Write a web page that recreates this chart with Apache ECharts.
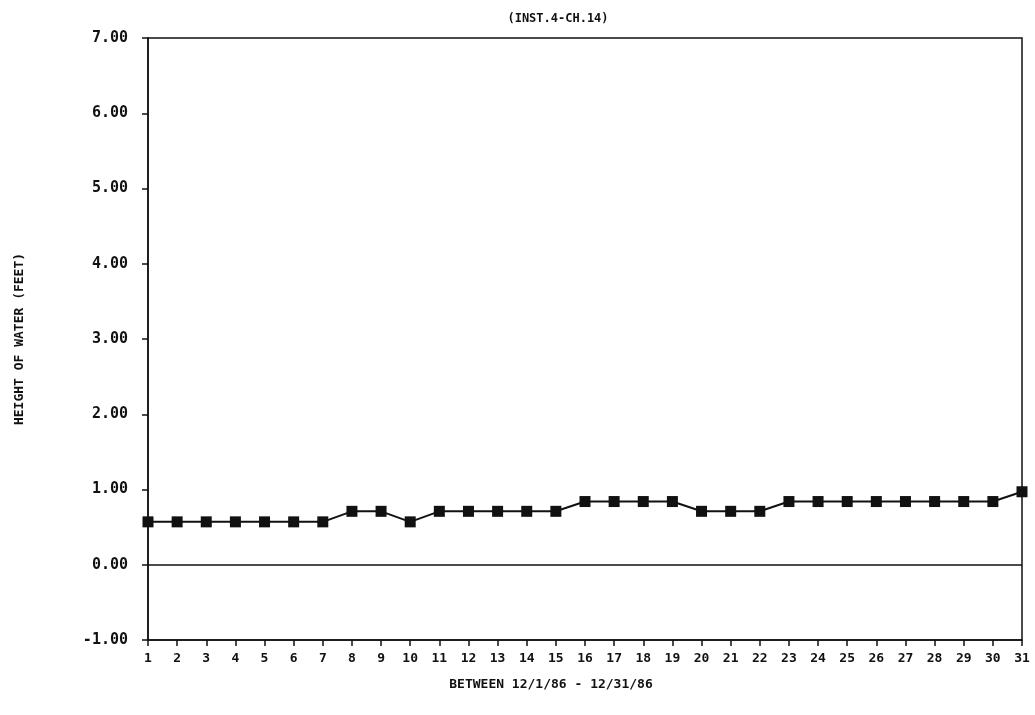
<!DOCTYPE html>
<html>
<head>
<meta charset="utf-8">
<script src="https://cdn.jsdelivr.net/npm/echarts@6/dist/echarts.min.js"></script>
<style>
  html, body { margin: 0; padding: 0; background: #fff; }
  #chart { width: 1035px; height: 715px; }
</style>
</head>
<body>
<div id="chart"></div>
<script>
// days of december 1986
var days = ['1','2','3','4','5','6','7','8','9','10','11','12','13','14','15','16',
  '17','18','19','20','21','22','23','24','25','26','27','28','29','30','31'];
// height of water (feet)
var heights = [0.57, 0.57, 0.57, 0.57, 0.57, 0.57, 0.57, 0.71, 0.71, 0.57,
  0.71, 0.71, 0.71, 0.71, 0.71, 0.84, 0.84, 0.84, 0.84, 0.71, 0.71, 0.71,
  0.84, 0.84, 0.84, 0.84, 0.84, 0.84, 0.84, 0.84, 0.97];

var font = 'DejaVu Sans Mono';
var myChart = echarts.init(document.getElementById('chart'));

var option = {
  animation: false,
  backgroundColor: '#fff',
  title: {
    text: '(INST.4-CH.14)',
    left: 553,
    top: 8,
    textAlign: 'center',
    textStyle: { fontFamily: font, fontSize: 12, fontWeight: 'bold', color: '#111' },
  },
  grid: {
    left: 148,
    right: 13,
    top: 38,
    bottom: 75,
    show: true,
    borderColor: '#111',
    borderWidth: 1.5,
  },
  xAxis: {
    type: 'category',
    data: days,
    boundaryGap: false,
    name: 'BETWEEN 12/1/86 - 12/31/86',
    nameLocation: 'middle',
    nameGap: 38,
    nameTextStyle: { fontFamily: font, fontSize: 13, fontWeight: 'bold', color: '#111', padding: [0, 68, 0, 0] },
    axisLine: { onZero: false, lineStyle: { color: '#111', width: 1.5 } },
    axisTick: { alignWithLabel: true, length: 6, lineStyle: { color: '#111', width: 1.5 } },
    axisLabel: { interval: 0, fontFamily: font, fontSize: 13, fontWeight: 'bold', color: '#111', margin: 12 },
    splitLine: { show: false },
  },
  yAxis: {
    type: 'value',
    min: -1,
    max: 7,
    interval: 1,
    name: 'HEIGHT OF WATER (FEET)',
    nameLocation: 'middle',
    nameGap: 122,
    nameTextStyle: { fontFamily: font, fontSize: 13, fontWeight: 'bold', color: '#111' },
    axisLine: { show: true, onZero: false, lineStyle: { color: '#111', width: 1.5 } },
    axisTick: { show: true, length: 6, lineStyle: { color: '#111', width: 1.5 } },
    axisLabel: {
      fontFamily: font, fontSize: 15, fontWeight: 'bold', color: '#111', margin: 20,
      formatter: function (v) { return v.toFixed(2); },
    },
    splitLine: { show: false },
  },
  series: [
    {
      type: 'line',
      data: heights,
      symbol: 'rect',
      symbolSize: 11,
      itemStyle: { color: '#111' },
      lineStyle: { color: '#111', width: 2 },
      markLine: {
        silent: true,
        symbol: 'none',
        label: { show: false },
        lineStyle: { color: '#111', width: 1.5, type: 'solid' },
        data: [{ yAxis: 0 }],
      },
    },
  ],
};

myChart.setOption(option);
</script>
</body>
</html>
